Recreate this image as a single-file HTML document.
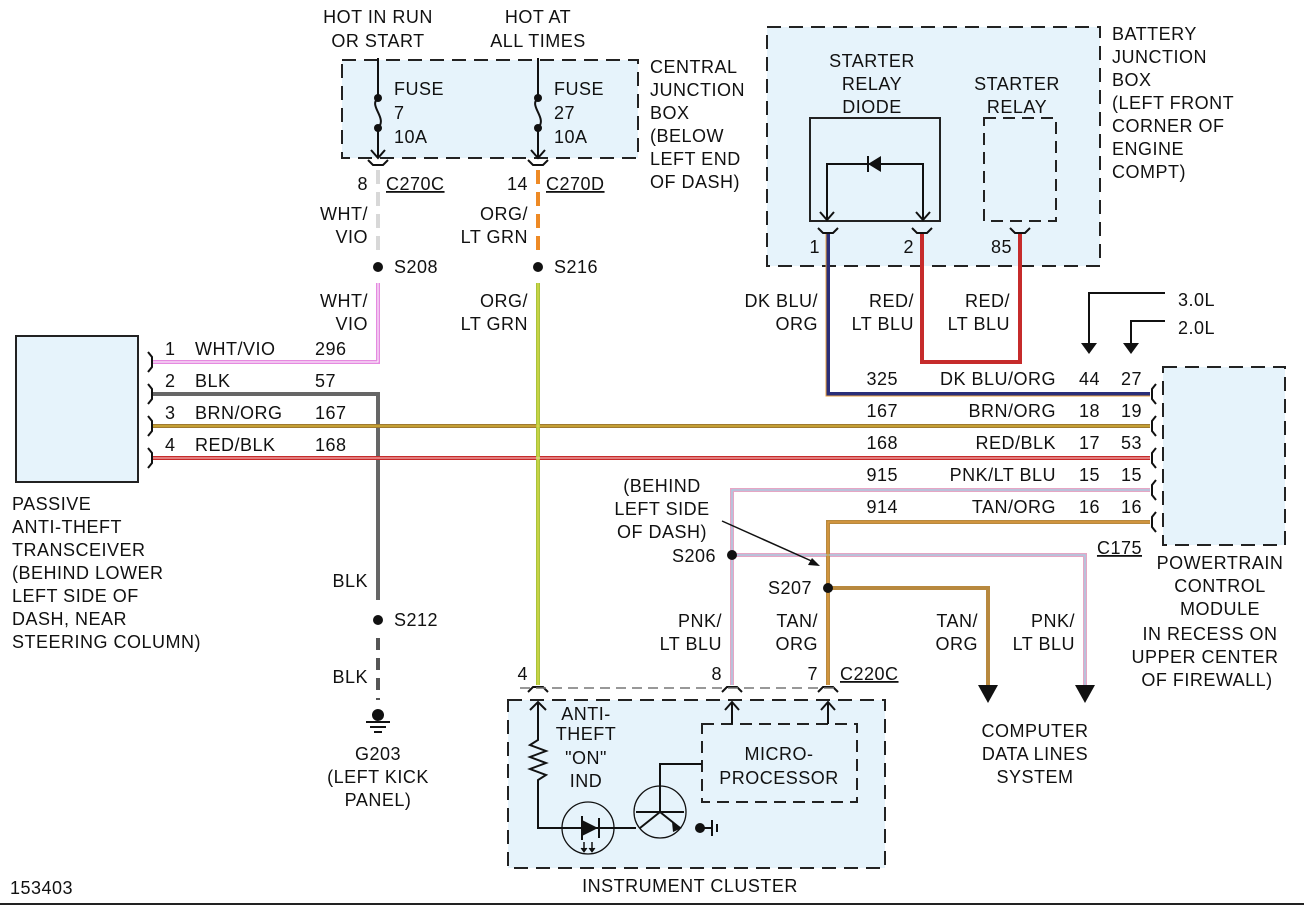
<!DOCTYPE html>
<html><head><meta charset="utf-8"><style>
html,body{margin:0;padding:0;background:#fff}
svg{display:block}
text{font-family:"Liberation Sans",sans-serif;font-size:18px;fill:#111;letter-spacing:0.5px}
.e{text-anchor:end}.m{text-anchor:middle}
</style></head><body>
<svg width="1304" height="906" viewBox="0 0 1304 906" xmlns="http://www.w3.org/2000/svg">
<defs>
<marker id="ah" markerWidth="10" markerHeight="10" refX="5" refY="9" orient="auto" markerUnits="userSpaceOnUse">
<path d="M0,0 L10,0 L5,10 Z" fill="#111"/></marker>
</defs>
<g fill="#e6f3fb" stroke="#222" stroke-width="2" stroke-dasharray="14,8">
<rect x="342" y="60" width="296" height="98"/>
<rect x="767" y="27" width="333" height="239"/>
<rect x="1163" y="367" width="122" height="178"/>
<rect x="508" y="700" width="377" height="168"/>
</g>
<rect x="16" y="336" width="122" height="146" fill="#e6f3fb" stroke="#222" stroke-width="2"/>
<rect x="810" y="118" width="130" height="103" fill="#e6f3fb" stroke="#222" stroke-width="2"/>
<rect x="984" y="118" width="72" height="103" fill="#e6f3fb" stroke="#222" stroke-width="2" stroke-dasharray="12,7"/>
<rect x="702" y="724" width="155" height="78" fill="#e6f3fb" stroke="#222" stroke-width="2" stroke-dasharray="12,7"/>

<!-- fuses -->
<g stroke="#111" stroke-width="2" fill="none">
<path d="M378,58 V98 M378,128 V158 M371,150 L378,158 L385,150"/>
<path d="M378,98 C368,106 388,118 378,128"/>
<path d="M538,58 V98 M538,128 V158 M531,150 L538,158 L545,150"/>
<path d="M538,98 C528,106 548,118 538,128"/>
<path d="M368,160 l5,5 h10 l5,-5 M528,160 l5,5 h10 l5,-5"/>
</g>
<g fill="#111"><circle cx="378" cy="98" r="4"/><circle cx="378" cy="128" r="4"/><circle cx="538" cy="98" r="4"/><circle cx="538" cy="128" r="4"/></g>
<text x="394" y="95">FUSE</text><text x="394" y="119">7</text><text x="394" y="143">10A</text>
<text x="554" y="95">FUSE</text><text x="554" y="119">27</text><text x="554" y="143">10A</text>
<text x="378" y="23" class="m">HOT IN RUN</text><text x="378" y="47" class="m">OR START</text>
<text x="538" y="23" class="m">HOT AT</text><text x="538" y="47" class="m">ALL TIMES</text>
<text x="650" y="73">CENTRAL</text><text x="650" y="96">JUNCTION</text><text x="650" y="119">BOX</text><text x="650" y="142">(BELOW</text><text x="650" y="165">LEFT END</text><text x="650" y="188">OF DASH)</text>

<text x="368" y="190" class="e">8</text><text x="386" y="190" text-decoration="underline">C270C</text>
<text x="528" y="190" class="e">14</text><text x="546" y="190" text-decoration="underline">C270D</text>
<path d="M378,170 V250" stroke="#d8d8d8" stroke-width="4" stroke-dasharray="14,8"/>
<path d="M538,170 V250" stroke="#ee8a25" stroke-width="4" stroke-dasharray="14,8"/>
<text x="368" y="220" class="e">WHT/</text><text x="368" y="243" class="e">VIO</text>
<text x="528" y="220" class="e">ORG/</text><text x="528" y="243" class="e">LT GRN</text>
<circle cx="378" cy="267" r="5" fill="#111"/><text x="394" y="273">S208</text>
<circle cx="538" cy="267" r="5" fill="#111"/><text x="554" y="273">S216</text>
<text x="368" y="307" class="e">WHT/</text><text x="368" y="330" class="e">VIO</text>
<text x="528" y="307" class="e">ORG/</text><text x="528" y="330" class="e">LT GRN</text>

<!-- wires -->
<g fill="none" stroke-width="4">
<path d="M378,283 V362 H152" stroke="#e58ae0"/>
<path d="M152,394 H378 V600" stroke="#666"/>
<path d="M378,638 V700" stroke="#555" stroke-dasharray="12,8"/>
<path d="M152,426 H1150" stroke="#a07a30"/>
<path d="M152,458 H1150" stroke="#c62b2b"/>
<path d="M538,283 V685" stroke="#a8c43a"/>
<path d="M828,232 V394 H1150" stroke="#2a2e78"/>
<path d="M922,232 V362 H1020 V232" stroke="#c62b2b"/>
<path d="M732,685 V490 H1150" stroke="#e6a6c4"/>
<path d="M732,555 H1085 V688" stroke="#e6a6c4"/>
<path d="M828,685 V522 H1150" stroke="#b8893e"/>
<path d="M828,588 H988 V688" stroke="#b8893e"/>
</g>
<g fill="none" stroke-width="1">
<path d="M378,283 V362 H152" stroke="#fff"/>
<path d="M152,426 H1150" stroke="#e8c53a"/>
<path d="M152,458 H1150" stroke="#ffd0d0"/>
<path d="M826,232 V396 H1150" stroke="#e8a040"/>
<path d="M732,685 V490 H1150" stroke="#8fdcef"/>
<path d="M732,555 H1085 V688" stroke="#8fdcef"/>
<path d="M828,685 V522 H1150" stroke="#e8a040"/>
<path d="M538,283 V685" stroke="#e8e050"/>
</g>
<g fill="#111"><path d="M978,685 h20 l-10,18 z"/><path d="M1075,685 h20 l-10,18 z"/></g>

<!-- transceiver connector cups -->
<g stroke="#111" stroke-width="2" fill="none">
<path d="M148,352 l4,5 v10 l-4,5 M148,384 l4,5 v10 l-4,5 M148,416 l4,5 v10 l-4,5 M148,448 l4,5 v10 l-4,5"/>
<path d="M1156,384 l-4,5 v10 l4,5 M1156,416 l-4,5 v10 l4,5 M1156,448 l-4,5 v10 l4,5 M1156,480 l-4,5 v10 l4,5 M1156,512 l-4,5 v10 l4,5"/>
<path d="M818,228 l5,5 h10 l5,-5 M912,228 l5,5 h10 l5,-5 M1010,228 l5,5 h10 l5,-5"/>
<path d="M528,692 l5,-5 h10 l5,5 M722,692 l5,-5 h10 l5,5 M818,692 l5,-5 h10 l5,5"/>
</g>
<path d="M520,688 H840" stroke="#777" stroke-width="1.5" stroke-dasharray="10,6"/>
<text x="165" y="355">1</text><text x="195" y="355">WHT/VIO</text><text x="315" y="355">296</text>
<text x="165" y="387">2</text><text x="195" y="387">BLK</text><text x="315" y="387">57</text>
<text x="165" y="419">3</text><text x="195" y="419">BRN/ORG</text><text x="315" y="419">167</text>
<text x="165" y="451">4</text><text x="195" y="451">RED/BLK</text><text x="315" y="451">168</text>
<text x="12" y="510">PASSIVE</text><text x="12" y="533">ANTI-THEFT</text><text x="12" y="556">TRANSCEIVER</text><text x="12" y="579">(BEHIND LOWER</text><text x="12" y="602">LEFT SIDE OF</text><text x="12" y="625">DASH, NEAR</text><text x="12" y="648">STEERING COLUMN)</text>

<text x="368" y="587" class="e">BLK</text>
<circle cx="378" cy="620" r="5" fill="#111"/><text x="394" y="626">S212</text>
<text x="368" y="683" class="e">BLK</text>
<g stroke="#111" stroke-width="2"><circle cx="378" cy="715" r="5" fill="#111"/><path d="M366,722 h24 M370,727 h16 M374,732 h8"/></g>
<text x="378" y="760" class="m">G203</text><text x="378" y="783" class="m">(LEFT KICK</text><text x="378" y="806" class="m">PANEL)</text>

<!-- battery junction -->
<text x="872" y="67" class="m">STARTER</text><text x="872" y="90" class="m">RELAY</text><text x="872" y="113" class="m">DIODE</text>
<text x="1017" y="90" class="m">STARTER</text><text x="1017" y="113" class="m">RELAY</text>
<text x="1112" y="40">BATTERY</text><text x="1112" y="63">JUNCTION</text><text x="1112" y="86">BOX</text><text x="1112" y="109">(LEFT FRONT</text><text x="1112" y="132">CORNER OF</text><text x="1112" y="155">ENGINE</text><text x="1112" y="178">COMPT)</text>
<g stroke="#111" stroke-width="2" fill="none">
<path d="M827,220 V164 H923 V220 M820,212 l7,8 l7,-8 M916,212 l7,8 l7,-8"/>
</g>
<path d="M868,164 l13,-8 v16 z" fill="#111"/><path d="M868,156 v16" stroke="#111" stroke-width="2"/>
<text x="820" y="253" class="e">1</text><text x="914" y="253" class="e">2</text><text x="1012" y="253" class="e">85</text>
<text x="818" y="307" class="e">DK BLU/</text><text x="818" y="330" class="e">ORG</text>
<text x="914" y="307" class="e">RED/</text><text x="914" y="330" class="e">LT BLU</text>
<text x="1010" y="307" class="e">RED/</text><text x="1010" y="330" class="e">LT BLU</text>

<g stroke="#111" stroke-width="2" fill="none"><path d="M1165,293 H1089 V345 M1165,321 H1131 V345"/></g>
<g fill="#111"><path d="M1081,343 h16 l-8,11 z M1123,343 h16 l-8,11 z"/></g>
<text x="1178" y="306">3.0L</text><text x="1178" y="334">2.0L</text>

<text x="898" y="385" class="e">325</text><text x="1056" y="385" class="e">DK BLU/ORG</text><text x="1100" y="385" class="e">44</text><text x="1142" y="385" class="e">27</text>
<text x="898" y="417" class="e">167</text><text x="1056" y="417" class="e">BRN/ORG</text><text x="1100" y="417" class="e">18</text><text x="1142" y="417" class="e">19</text>
<text x="898" y="449" class="e">168</text><text x="1056" y="449" class="e">RED/BLK</text><text x="1100" y="449" class="e">17</text><text x="1142" y="449" class="e">53</text>
<text x="898" y="481" class="e">915</text><text x="1056" y="481" class="e">PNK/LT BLU</text><text x="1100" y="481" class="e">15</text><text x="1142" y="481" class="e">15</text>
<text x="898" y="513" class="e">914</text><text x="1056" y="513" class="e">TAN/ORG</text><text x="1100" y="513" class="e">16</text><text x="1142" y="513" class="e">16</text>
<text x="1142" y="554" class="e" text-decoration="underline">C175</text>
<text x="1220" y="569" class="m">POWERTRAIN</text><text x="1220" y="592" class="m">CONTROL</text><text x="1220" y="615" class="m">MODULE</text><text x="1210" y="640" class="m">IN RECESS ON</text><text x="1205" y="663" class="m">UPPER CENTER</text><text x="1207" y="686" class="m">OF FIREWALL)</text>

<text x="662" y="492" class="m">(BEHIND</text><text x="662" y="515" class="m">LEFT SIDE</text><text x="662" y="538" class="m">OF DASH)</text>
<path d="M722,521 L816,563" stroke="#111" stroke-width="1.5"/><path d="M820,566 l-12,-1 l4,-7 z" fill="#111"/>
<circle cx="732" cy="555" r="5" fill="#111"/><text x="716" y="562" class="e">S206</text>
<circle cx="828" cy="588" r="5" fill="#111"/><text x="812" y="594" class="e">S207</text>
<text x="722" y="627" class="e">PNK/</text><text x="722" y="650" class="e">LT BLU</text>
<text x="818" y="627" class="e">TAN/</text><text x="818" y="650" class="e">ORG</text>
<text x="978" y="627" class="e">TAN/</text><text x="978" y="650" class="e">ORG</text>
<text x="1075" y="627" class="e">PNK/</text><text x="1075" y="650" class="e">LT BLU</text>
<text x="1035" y="737" class="m">COMPUTER</text><text x="1035" y="760" class="m">DATA LINES</text><text x="1035" y="783" class="m">SYSTEM</text>
<text x="528" y="680" class="e">4</text><text x="722" y="680" class="e">8</text><text x="818" y="680" class="e">7</text><text x="840" y="680" text-decoration="underline">C220C</text>

<!-- cluster internals -->
<g stroke="#111" stroke-width="2" fill="none">
<path d="M538,702 V740 l-8,5 l16,6 l-16,6 l16,6 l-16,6 l16,6 l-8,5 V828 H636 M530,710 l8,-8 l8,8"/>
<path d="M732,702 V724 M725,710 l7,-8 l7,8 M828,702 V724 M821,710 l7,-8 l7,8"/>
<path d="M702,764 H660 V812 M636,812 H684 M660,812 L680,828 M640,828 L660,812"/>
<circle cx="588" cy="828" r="26" stroke-width="1.3"/>
<circle cx="660" cy="812" r="26" stroke-width="1.3"/>
<path d="M582,816 v24 M599,818 v20 M704,828 H712 M712,820 v16 M717,824 v8"/>
<path d="M584,842 v8 M592,842 v8" stroke-width="1.5"/>
</g>
<path d="M582,820 l16,8 l-16,8 z" fill="#111"/>
<path d="M672,822 l10,6 l-9,4 z" fill="#111"/>
<circle cx="700" cy="828" r="5" fill="#111"/>
<path d="M581,848 l3,4 l3,-4 M589,848 l3,4 l3,-4" fill="#111" stroke="#111"/>
<text x="586" y="720" class="m">ANTI-</text><text x="586" y="740" class="m">THEFT</text><text x="586" y="764" class="m">"ON"</text><text x="586" y="787" class="m">IND</text>
<text x="779" y="760" class="m">MICRO-</text><text x="779" y="784" class="m">PROCESSOR</text>
<text x="690" y="892" class="m">INSTRUMENT CLUSTER</text>
<text x="10" y="894">153403</text>
<path d="M0,904 H1304" stroke="#222" stroke-width="2"/>
</svg>
</body></html>
